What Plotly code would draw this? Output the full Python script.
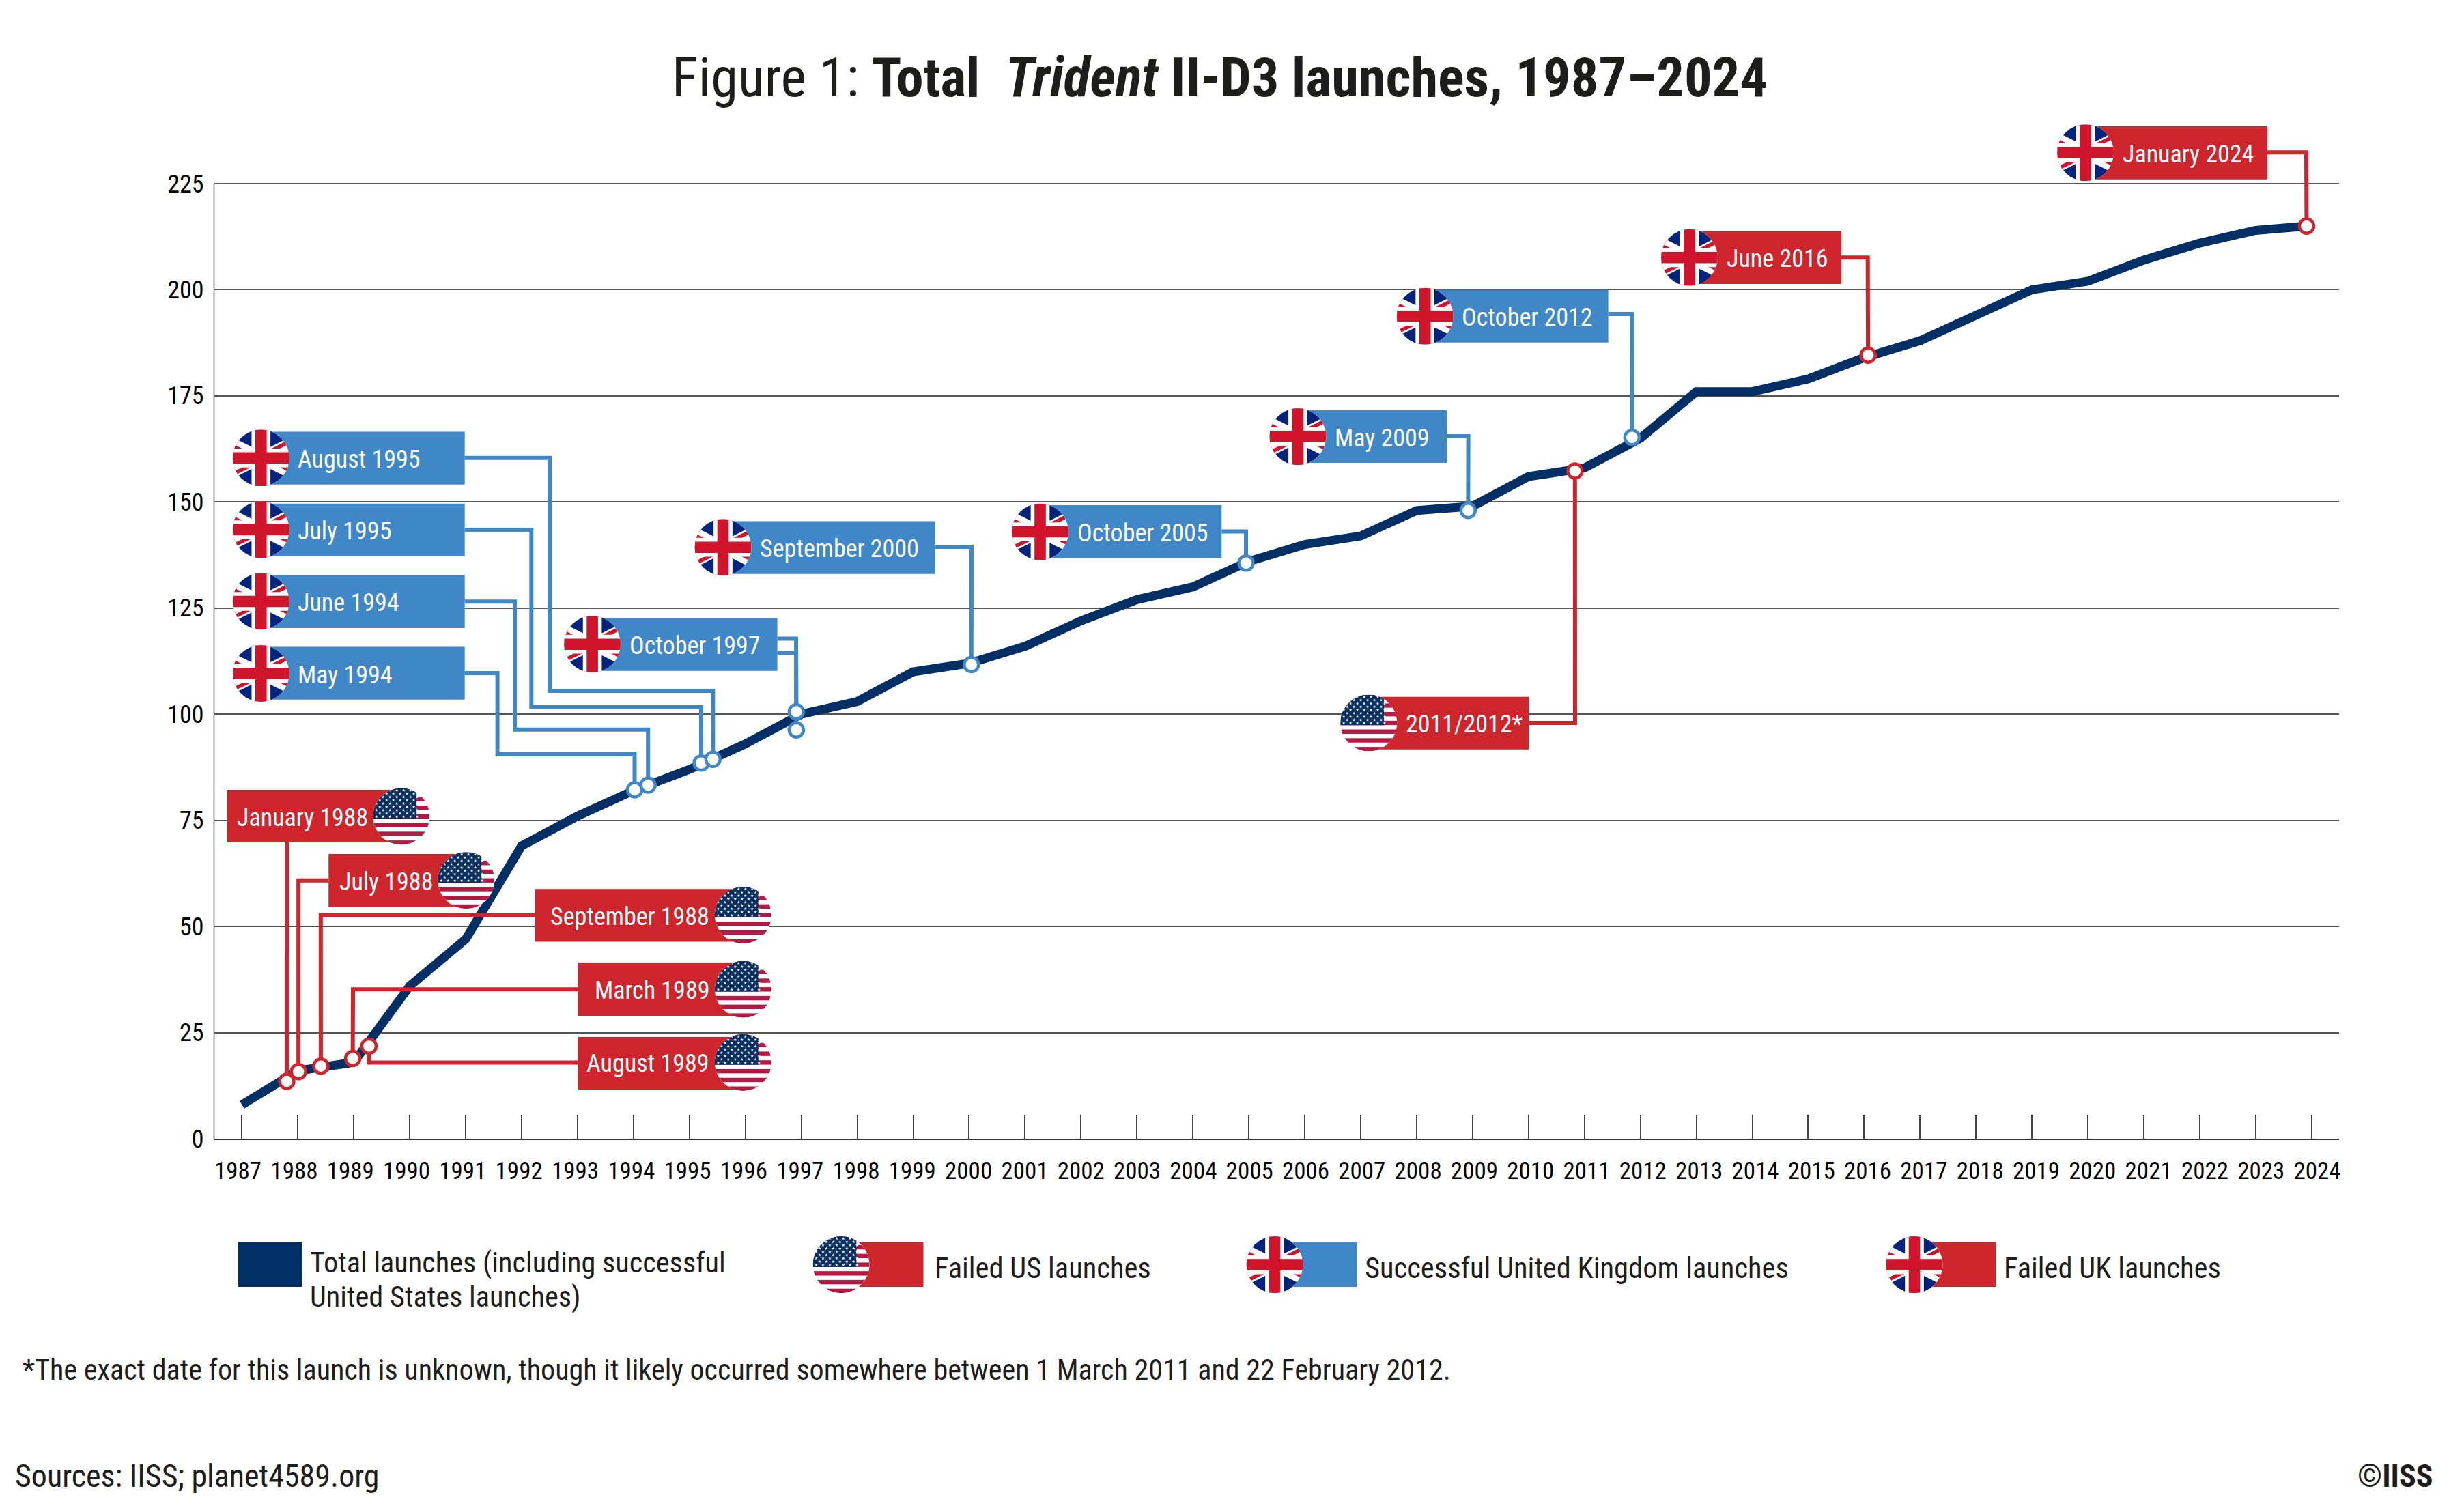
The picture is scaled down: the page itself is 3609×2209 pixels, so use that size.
import base64
import numpy as np
import plotly.graph_objects as go

# ---------- data ----------
YEARS = [1987, 1988, 1989, 1990, 1991, 1992, 1993, 1994, 1995, 1996, 1997, 1998, 1999,
         2000, 2001, 2002, 2003, 2004, 2005, 2006, 2007, 2008, 2009, 2010, 2011, 2012,
         2013, 2014, 2015, 2016, 2017, 2018, 2019, 2020, 2021, 2022, 2023, 2024]
LINE_X = [1987, 1988, 1989, 1990, 1991, 1992, 1993, 1994, 1995, 1996, 1997, 1998, 1999,
          2000, 2001, 2002, 2003, 2004, 2005, 2006, 2007, 2008, 2009, 2010, 2011, 2012,
          2013, 2014, 2015, 2016, 2017, 2018, 2019, 2020, 2021, 2022, 2023, 2023.91]
TOTAL_LAUNCHES = [8, 16, 18, 36, 47, 69, 76, 82, 87, 93, 100, 103, 110,
                  112, 116, 122, 127, 130, 136, 140, 142, 148, 149, 156, 158, 165,
                  176, 176, 179, 184, 188, 194, 200, 202, 207, 211, 214, 215]
Y_TICKS = [0, 25, 50, 75, 100, 125, 150, 175, 200, 225]

EVENT_LABELS = ["January 1988", "July 1988", "September 1988", "March 1989", "August 1989",
                "May 1994", "June 1994", "July 1995", "August 1995", "October 1997", "October 1997",
                "September 2000", "October 2005", "May 2009", "2011/2012*", "October 2012",
                "June 2016", "January 2024"]
EVENT_YEARS = [1987.80, 1988.01, 1988.41, 1988.98, 1989.27,
               1994.02, 1994.26, 1995.21, 1995.42, 1996.91, 1996.91,
               2000.04, 2004.95, 2008.92, 2010.83, 2011.85, 2016.07, 2023.91]
EVENT_VALUES = [13.5, 15.8, 17.1, 18.9, 21.8,
                82.2, 83.3, 88.5, 89.4, 100.6, 96.3,
                111.7, 135.6, 148, 157.3, 165.2, 184.6, 215]
EVENT_COUNTRY = ["US", "US", "US", "US", "US",
                 "UK", "UK", "UK", "UK", "UK", "UK",
                 "UK", "UK", "UK", "US", "UK", "UK", "UK"]
EVENT_FAILED = [True, True, True, True, True,
                False, False, False, False, False, False,
                False, False, False, True, False, True, True]

LEGEND_TOTAL = ["Total launches (including successful", "United States launches)"]
LEGEND_US = "Failed US launches"
LEGEND_UK_OK = "Successful United Kingdom launches"
LEGEND_UK_FAIL = "Failed UK launches"
TITLE = "Figure 1: <b>Total  <i>Trident</i> II-D3 launches, 1987–2024</b>"
FOOTNOTE = "*The exact date for this launch is unknown, though it likely occurred somewhere between 1 March 2011 and 22 February 2012."
SOURCES = "Sources: IISS; planet4589.org"
COPYRIGHT = "©<b>IISS</b>"

# ---------- page layout (pixels on the 3609x2209 page) ----------
W, H = 3609, 2209
PLOT_L, PLOT_R, PLOT_T, PLOT_B = 313.5, 3426, 269, 1668
AREA_T = 170                          # plot area runs above the 225 gridline so leaders are not cut
X0_PX, X_STEP = 354.4, 81.93          # axis: 1987 tick, px per year
LBL0_PX, LBL_STEP = 348.6, 82.31      # tick labels drift slightly from the ticks
NAVY, BLUE, RED, INK, GRID = "#002F66", "#3F87C6", "#CE252C", "#1D1D1B", "#555555"
FONT = "Roboto Condensed, Roboto, sans-serif"
R = 41.5


def px(x):
    return x / W


def py(y):
    return 1 - y / H


def to_year(x):
    return 1987 + (x - X0_PX) / X_STEP


def to_val(y):
    return (PLOT_B - y) * 225 / (PLOT_B - PLOT_T)


# One entry per event; box=None means it shares the previous event's box.
def B(cx, cy, far, top, bot):
    return dict(cx=cx, cy=cy, far=far, top=top, bot=bot)


CALLOUTS = [
    (B(587.8, 1196, 332.7, 1157, 1234), [(420, 1234)]),
    (B(682.8, 1289.7, 481.3, 1251, 1328), [(481.3, 1289.7), (437.2, 1289.7)]),
    (B(1088.4, 1340.6, 783, 1302.3, 1379.6), [(783, 1340.6), (469.8, 1340.6)]),
    (B(1088.4, 1449.3, 846.7, 1410, 1488), [(846.7, 1449.3), (517, 1449.3)]),
    (B(1088.4, 1556.4, 846.7, 1519, 1596), [(846.7, 1556.4), (540, 1556.4)]),
    (B(382.3, 986.5, 680.7, 947.5, 1024.8), [(680.7, 986), (728.6, 986), (728.6, 1105), (929.5, 1105)]),
    (B(382.3, 881, 680.7, 842.6, 920), [(680.7, 881.3), (754, 881.3), (754, 1068.8), (949.2, 1068.8)]),
    (B(382.3, 776, 680.7, 737.8, 814.7), [(680.7, 776), (778.3, 776), (778.3, 1035.5), (1027, 1035.5)]),
    (B(382.3, 670.8, 680.7, 632.5, 709.8), [(680.7, 670.8), (805, 670.8), (805, 1012), (1044.3, 1012)]),
    (B(867.6, 943.7, 1138.6, 905.4, 982.7), [(1138.6, 935.6), (1166, 935.6)]),
    (None, [(1138.6, 956.7), (1166, 956.7)]),
    (B(1059, 801.7, 1369.5, 763.4, 840.7), [(1369.5, 801), (1423, 801)]),
    (B(1523.5, 779, 1789.3, 739.9, 817.2), [(1789.3, 778.5), (1825, 778.5)]),
    (B(1900.9, 639.6, 2119, 601, 678), [(2119, 639), (2150.6, 639)]),
    (B(2004.7, 1059, 2239, 1020.8, 1097.7), [(2239, 1059), (2307, 1059)]),
    (B(2087.2, 463.3, 2355.6, 424.7, 501.7), [(2355.6, 460), (2390.3, 460)]),
    (B(2474.5, 377.3, 2697, 339, 416), [(2697, 377.3), (2735.7, 377.3)]),
    (B(3054.6, 223.7, 3321, 185, 262.7), [(3321, 223.3), (3378, 223.3)]),
]


# ---------- flags (decorative pictures, clipped to a circle) ----------
def data_uri(svg):
    return "data:image/svg+xml;base64," + base64.b64encode(svg.encode()).decode()


UK_SVG = (
    '<svg xmlns="http://www.w3.org/2000/svg" width="300" height="300" viewBox="15 0 30 30">'
    '<defs><clipPath id="c"><circle cx="30" cy="15" r="15"/></clipPath>'
    '<clipPath id="t"><path d="M30,15 h30 v15 z v15 h-30 z h-30 v-15 z v-15 h30 z"/></clipPath></defs>'
    '<g clip-path="url(#c)">'
    '<rect x="0" y="0" width="60" height="30" fill="#00247D"/>'
    '<path d="M0,0 L60,30 M60,0 L0,30" stroke="#fff" stroke-width="6"/>'
    '<path d="M0,0 L60,30 M60,0 L0,30" clip-path="url(#t)" stroke="#CF142B" stroke-width="4"/>'
    '<path d="M30,0 v30 M0,15 h60" stroke="#fff" stroke-width="10"/>'
    '<path d="M30,0 v30 M0,15 h60" stroke="#CF142B" stroke-width="6"/>'
    '</g></svg>'
)


def us_svg():
    parts = ['<svg xmlns="http://www.w3.org/2000/svg" width="300" height="300" viewBox="0 0 100 100">'
             '<defs><clipPath id="c"><circle cx="50" cy="50" r="50"/></clipPath></defs>'
             '<g clip-path="url(#c)"><rect width="100" height="100" fill="#fff"/>']
    sh = 100 / 13
    for i in range(0, 13, 2):
        parts.append(f'<rect x="0" y="{i * sh:.2f}" width="100" height="{sh:.2f}" fill="#B31942"/>')
    parts.append('<rect x="0" y="0" width="77" height="54" fill="#0A3161"/>')
    star = []
    for k in range(10):
        r = 2.9 if k % 2 == 0 else 1.15
        a = -np.pi / 2 + k * np.pi / 5
        star.append(f"{r * np.cos(a):.2f},{r * np.sin(a):.2f}")
    pts = " ".join(star)
    for row in range(9):
        n = 7 if row % 2 == 0 else 6
        xoff = 6 if row % 2 == 0 else 12
        for col in range(n):
            parts.append(f'<polygon transform="translate({xoff + col * 12},{4 + row * 5.8})" points="{pts}" fill="#fff"/>')
    parts.append('</g></svg>')
    return "".join(parts)


FLAG = {"UK": data_uri(UK_SVG), "US": data_uri(us_svg())}

images, shapes, annotations = [], [], []


def text(x, y, s, size, color=INK, anchor="left"):
    annotations.append(dict(x=px(x), y=py(y), xref="paper", yref="paper", text=s, showarrow=False,
                            xanchor=anchor, yanchor="middle", align=anchor,
                            font=dict(family=FONT, size=size, color=color)))


def add_flag(country, cx, cy):
    images.append(dict(source=FLAG[country], xref="paper", yref="paper", x=px(cx - R), y=py(cy - R),
                       sizex=2 * R / W, sizey=2 * R / H, xanchor="left", yanchor="top",
                       sizing="stretch", layer="above"))


def add_box(cx, cy, far, top, bot, color):
    """Label plate whose flag-side edge follows the flag's circle."""
    side = 1 if far > cx else -1
    ys = np.linspace(top, bot, 17)
    xs = cx + side * np.sqrt(np.maximum(R ** 2 - (ys - cy) ** 2, 0))
    d = f"M {px(far):.6f} {py(top):.6f} " + " ".join(f"L {px(a):.6f} {py(b):.6f}" for a, b in zip(xs, ys))
    d += f" L {px(far):.6f} {py(bot):.6f} Z"
    shapes.append(dict(type="path", path=d, xref="paper", yref="paper", fillcolor=color,
                       line=dict(width=0), layer="above"))


# ---------- callouts ----------
conn = {True: ([], []), False: ([], [])}
for label, yr, val, country, failed, (box, elbows) in zip(
        EVENT_LABELS, EVENT_YEARS, EVENT_VALUES, EVENT_COUNTRY, EVENT_FAILED, CALLOUTS):
    color = RED if failed else BLUE
    if box:
        add_box(box["cx"], box["cy"], box["far"], box["top"], box["bot"], color)
        add_flag(country, box["cx"], box["cy"])
        if box["far"] > box["cx"]:
            text(box["cx"] + 52, box["cy"] + 2, label, 36, "white", "left")
        else:
            text(box["cx"] - 47, box["cy"] + 2, label, 36, "white", "right")
    xs, ys = conn[failed]
    xs += [to_year(p[0]) for p in elbows] + [yr, None]
    ys += [to_val(p[1]) for p in elbows] + [val, None]

fig = go.Figure()

# invisible trace that brings the tick-label axis to life
fig.add_trace(go.Scatter(x=LINE_X, y=TOTAL_LAUNCHES, xaxis="x2", yaxis="y", mode="lines",
                         line=dict(width=0), opacity=0, hoverinfo="skip", showlegend=False))
fig.add_trace(go.Scatter(x=LINE_X, y=TOTAL_LAUNCHES, mode="lines", name="Total launches",
                         line=dict(color=NAVY, width=13), showlegend=False))
for failed, color in ((False, BLUE), (True, RED)):
    fig.add_trace(go.Scatter(x=conn[failed][0], y=conn[failed][1], mode="lines", hoverinfo="skip",
                             line=dict(color=color, width=6), connectgaps=False, showlegend=False))
    fig.add_trace(go.Scatter(x=[a for a, f in zip(EVENT_YEARS, EVENT_FAILED) if f == failed],
                             y=[a for a, f in zip(EVENT_VALUES, EVENT_FAILED) if f == failed],
                             mode="markers", showlegend=False, cliponaxis=False,
                             marker=dict(size=21, color="white", line=dict(color=color, width=4.5))))

# ---------- y-axis line (stops at the 225 gridline), legend, notes ----------
shapes.append(dict(type="line", xref="paper", yref="paper", x0=px(PLOT_L), x1=px(PLOT_L), y0=py(PLOT_B), y1=py(PLOT_T),
                   line=dict(color="#333333", width=1.5), layer="below"))
shapes.append(dict(type="rect", xref="paper", yref="paper", x0=px(349), x1=px(442), y0=py(1820), y1=py(1885),
                   fillcolor=NAVY, line=dict(width=0), layer="above"))
text(452, 1849, LEGEND_TOTAL[0], 42.3)
text(452, 1899, LEGEND_TOTAL[1], 42.3)
for country, cx, far, color, s, tx in (("US", 1232, 1352.5, RED, LEGEND_US, 1367),
                                       ("UK", 1867, 1987, BLUE, LEGEND_UK_OK, 1997),
                                       ("UK", 2804, 2923, RED, LEGEND_UK_FAIL, 2933)):
    add_box(cx, 1852.6, far, 1820, 1885, color)
    add_flag(country, cx, 1852.6)
    text(tx, 1857, s, 42.5)
text(31, 2006, FOOTNOTE, 42.1)
text(20, 2162, SOURCES, 46)
text(3566, 2162, COPYRIGHT, 46, anchor="right")
text(1786, 114, TITLE, 80.5, anchor="center")

fig.update_layout(
    width=W, height=H, margin=dict(l=0, r=0, t=0, b=0, pad=0, autoexpand=False), autosize=False,
    paper_bgcolor="white", plot_bgcolor="white", showlegend=False,
    font=dict(family=FONT, color=INK),
    images=images, shapes=shapes, annotations=annotations,
    xaxis=dict(domain=[px(PLOT_L), px(PLOT_R)], range=[to_year(PLOT_L), to_year(PLOT_R)],
               tickmode="array", tickvals=YEARS, showticklabels=False, ticks="inside", ticklen=35,
               tickwidth=1.5, tickcolor="#444444", showgrid=False, zeroline=False,
               showline=True, linecolor="#333333", linewidth=1.5),
    xaxis2=dict(overlaying="x", anchor="y", side="bottom", domain=[px(PLOT_L), px(PLOT_R)],
                range=[1987 + (PLOT_L - LBL0_PX) / LBL_STEP, 1987 + (PLOT_R - LBL0_PX) / LBL_STEP],
                tickmode="array", tickvals=YEARS, ticktext=[str(y) for y in YEARS], ticks="", tickangle=0,
                tickfont=dict(family=FONT, size=35, color="#000000"), ticklabelstandoff=23,
                showgrid=False, zeroline=False, showline=False),
    yaxis=dict(domain=[py(PLOT_B), py(AREA_T)], range=[0, to_val(AREA_T)], tickmode="array", tickvals=Y_TICKS,
               ticks="", ticklabelstandoff=14, tickfont=dict(family=FONT, size=36, color="#000000"),
               showgrid=True, gridcolor=GRID, gridwidth=1.5, zeroline=False, showline=False),
)

fig.write_html("out.html", config=dict(displayModeBar=False),
               post_script="document.body.style.margin='0';document.body.style.overflow='hidden';")
